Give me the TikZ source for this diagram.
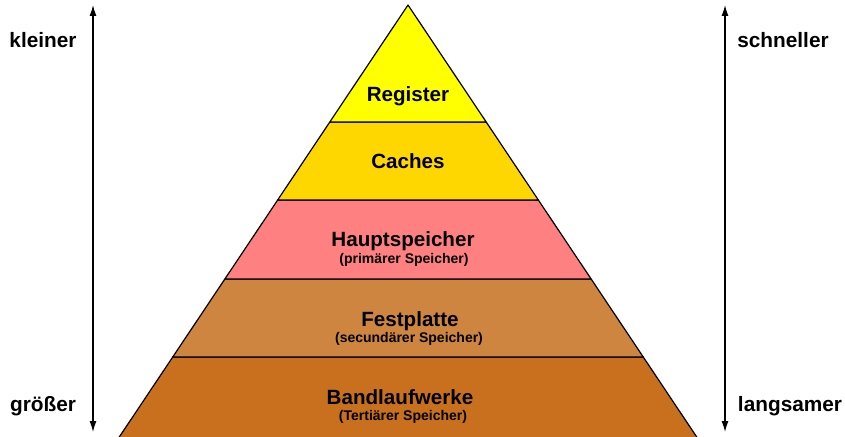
\documentclass[tikz,border=0pt]{standalone}
\usepackage{fontspec}
\setmainfont{Liberation Sans}
\usetikzlibrary{calc,arrows.meta}
\definecolor{regc}{RGB}{255,255,0}
\definecolor{cachec}{RGB}{255,215,0}
\definecolor{mainc}{RGB}{255,128,128}
\definecolor{diskc}{RGB}{205,133,63}
\definecolor{tapec}{RGB}{200,112,30}
\tikzset{
  layer/.style={draw=black, line width=1.2pt, line join=round},
  title/.style={font=\bfseries\fontsize{20.6}{22}\selectfont, inner sep=0pt},
  sub/.style={font=\bfseries\fontsize{14}{16}\selectfont, inner sep=0pt},
  side/.style={font=\bfseries\fontsize{20.8}{22}\selectfont, inner sep=0pt},
  scale arrow/.style={line width=1.3pt, {Latex[length=11pt,width=7pt]}-{Latex[length=11pt,width=7pt]}}
}
\begin{document}
\begin{tikzpicture}[x=1pt,y=-1pt]
\useasboundingbox (0,0) rectangle (845,436);
% pyramid corners (the base lies just below the page edge)
\coordinate (A) at (408,5);
\coordinate (BL) at (118.6,438);
\coordinate (BR) at (697.4,438);
% layer boundaries along the two slanted edges
\foreach \n/\t in {1/0.2702,2/0.4503,3/0.6328,4/0.8129}{
  \coordinate (L\n) at ($(A)!\t!(BL)$);
  \coordinate (R\n) at ($(A)!\t!(BR)$);
}
\filldraw[layer, fill=tapec] (L4) -- (R4) -- (BR) -- (BL) -- cycle;
\filldraw[layer, fill=diskc] (L3) -- (R3) -- (R4) -- (L4) -- cycle;
\filldraw[layer, fill=mainc] (L2) -- (R2) -- (R3) -- (L3) -- cycle;
\filldraw[layer, fill=cachec] (L1) -- (R1) -- (R2) -- (L2) -- cycle;
\filldraw[layer, fill=regc] (A) -- (R1) -- (L1) -- cycle;

% layer labels
\node[title] (reg) at (408,96) {Register};
\node[title] (cache) at (408,161) {Caches};
\node[title] (mem) at (403,241) {Hauptspeicher};
\node[sub] (memsub) at (404,260) {(primärer Speicher)};
\node[title] (disk) at (410,321) {Festplatte};
\node[sub] (disksub) at (409,339) {(secundärer Speicher)};
\node[title] (tape) at (400,397) {Bandlaufwerke};
\node[sub] (tapesub) at (403,417) {(Tertiärer Speicher)};

% size axis on the left, speed axis on the right
\coordinate (lt) at (93,5);
\coordinate (lb) at (93,432);
\coordinate (rt) at (725,5);
\coordinate (rb) at (725,432);
\draw[scale arrow] (lt) -- (lb);
\draw[scale arrow] (rt) -- (rb);
\node[side] (small) at (43,40) {kleiner};
\node[side] (big) at (43,406) {größer};
\node[side] (fast) at (783,40) {schneller};
\node[side] (slow) at (790,406) {langsamer};
\end{tikzpicture}
\end{document}
